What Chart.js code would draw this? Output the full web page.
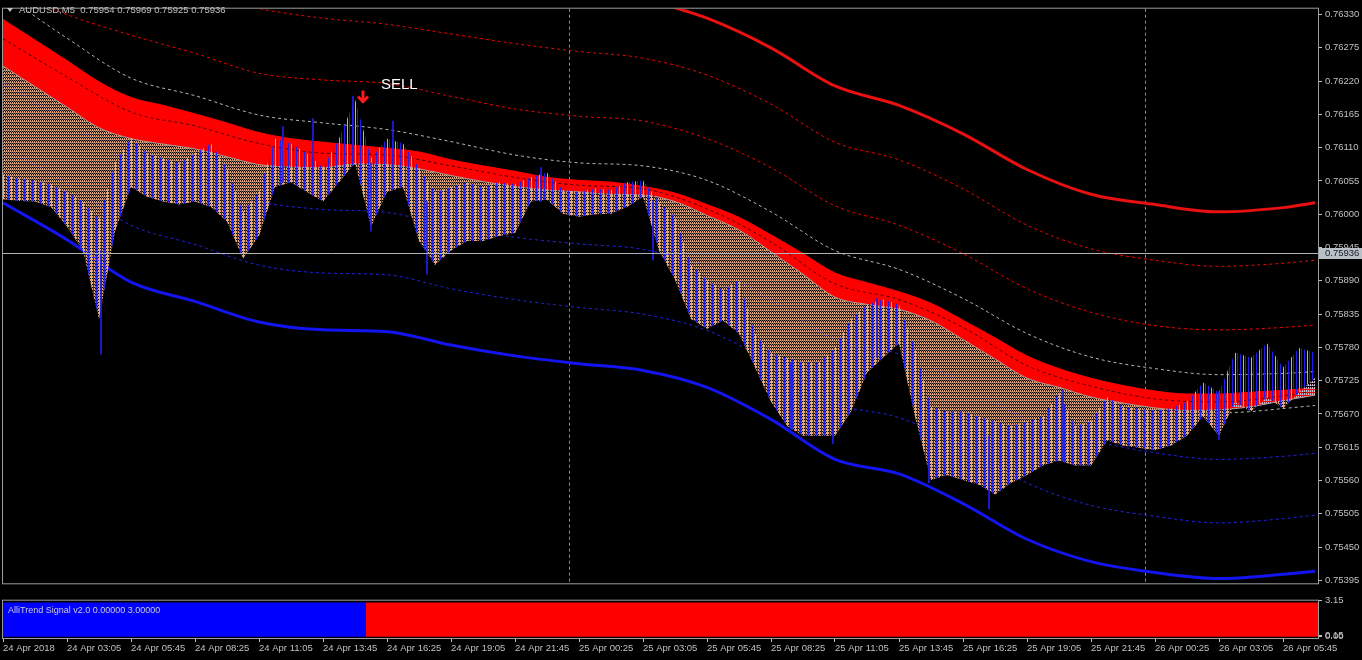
<!DOCTYPE html>
<html>
<head>
<meta charset="utf-8">
<title>AUDUSD,M5</title>
<script src="https://cdn.jsdelivr.net/npm/chart.js@4.4.0/dist/chart.umd.min.js"></script>
<style>
  html, body { margin: 0; padding: 0; background: #000; overflow: hidden; }
  #wrap { position: relative; width: 1362px; height: 660px; background: #000; }
  #main { position: absolute; left: 0; top: 0; }
  #sig { position: absolute; left: 0; top: 592px; }
</style>
</head>
<body>
<div id="wrap">
  <canvas id="main" width="1362" height="592"></canvas>
  <canvas id="sig" width="1362" height="68"></canvas>
</div>
<script>
// ---- chart data (bar index on x, price on y) ----
const symbol = 'AUDUSD,M5';
const ohlc = [0.75954, 0.75969, 0.75925, 0.75936];
const lastPrice = 0.75936;

const priceTicks = [0.76330, 0.76275, 0.76220, 0.76165, 0.76110, 0.76055, 0.76000, 0.75945, 0.75890,
  0.75835, 0.75780, 0.75725, 0.75670, 0.75615, 0.75560, 0.75505, 0.75450, 0.75395];

const timeLabels = ['24 Apr 2018', '24 Apr 03:05', '24 Apr 05:45', '24 Apr 08:25', '24 Apr 11:05',
  '24 Apr 13:45', '24 Apr 16:25', '24 Apr 19:05', '24 Apr 21:45', '25 Apr 00:25', '25 Apr 03:05',
  '25 Apr 05:45', '25 Apr 08:25', '25 Apr 11:05', '25 Apr 13:45', '25 Apr 16:25', '25 Apr 19:05',
  '25 Apr 21:45', '26 Apr 00:25', '26 Apr 03:05', '26 Apr 05:45'];
const barsPerLabel = 32;
const daySeparators = [283, 571];

// envelope lines, one reading every 32 bars
const envBars = [0, 32, 64, 96, 128, 160, 192, 224, 256, 288, 320, 352, 384, 416, 448, 480, 512, 544, 576, 608, 640, 656];
const redOuter = [0.76633, 0.76585, 0.76545, 0.76520, 0.76496, 0.76472, 0.76456, 0.76432, 0.76407, 0.76383, 0.76356,
  0.76324, 0.76275, 0.76212, 0.76180, 0.76133, 0.76074, 0.76033, 0.76016, 0.76004, 0.76011, 0.76019];
const redDot2 = [0.76440, 0.76416, 0.76391, 0.76367, 0.76340, 0.76324, 0.76314, 0.76298, 0.76282, 0.76269, 0.76258,
  0.76230, 0.76182, 0.76119, 0.76090, 0.76042, 0.75982, 0.75943, 0.75924, 0.75914, 0.75919, 0.75924];
const redDot1 = [0.76375, 0.76330, 0.76296, 0.76266, 0.76233, 0.76222, 0.76216, 0.76195, 0.76174, 0.76162, 0.76154,
  0.76125, 0.76077, 0.76014, 0.75982, 0.75935, 0.75877, 0.75838, 0.75816, 0.75809, 0.75813, 0.75817];
const greyUpper = [0.76364, 0.76291, 0.76225, 0.76196, 0.76164, 0.76151, 0.76140, 0.76120, 0.76098, 0.76085, 0.76080,
  0.76056, 0.76004, 0.75940, 0.75909, 0.75861, 0.75803, 0.75764, 0.75745, 0.75735, 0.75737, 0.75740];
const bandMid = [0.76290, 0.76227, 0.76169, 0.76146, 0.76117, 0.76101, 0.76098, 0.76080, 0.76061, 0.76048, 0.76042,
  0.76009, 0.75954, 0.75885, 0.75859, 0.75813, 0.75750, 0.75716, 0.75695, 0.75690, 0.75700, 0.75708];
const blueDot1 = [0.76217, 0.76154, 0.76085, 0.76053, 0.76021, 0.76008, 0.76003, 0.75979, 0.75962, 0.75951, 0.75942,
  0.75913, 0.75859, 0.75793, 0.75769, 0.75721, 0.75660, 0.75627, 0.75606, 0.75595, 0.75600, 0.75605];
const blueDot2 = [0.76112, 0.76051, 0.75982, 0.75950, 0.75916, 0.75903, 0.75900, 0.75877, 0.75859, 0.75846, 0.75835,
  0.75808, 0.75755, 0.75688, 0.75664, 0.75616, 0.75556, 0.75519, 0.75501, 0.75490, 0.75497, 0.75503];
const blueOuter = [0.76019, 0.75958, 0.75888, 0.75856, 0.75822, 0.75809, 0.75806, 0.75784, 0.75766, 0.75753, 0.75742,
  0.75714, 0.75661, 0.75595, 0.75571, 0.75522, 0.75463, 0.75426, 0.75408, 0.75398, 0.75405, 0.75410];

// grey dashed line under the band, only visible at the right end
const greyLowerBars = [592, 608, 624, 640, 656];
const greyLower = [0.75667, 0.75671, 0.75674, 0.75679, 0.75684];

// red band, one reading every 16 bars
const bandTop = [0.76322, 0.76288, 0.76254, 0.76219, 0.76193, 0.76180, 0.76166, 0.76151, 0.76135, 0.76125, 0.76119,
  0.76114, 0.76109, 0.76103, 0.76090, 0.76080, 0.76071, 0.76061, 0.76056, 0.76053, 0.76046, 0.76035, 0.76016, 0.75995,
  0.75966, 0.75935, 0.75903, 0.75887, 0.75872, 0.75853, 0.75825, 0.75796, 0.75766, 0.75745, 0.75729, 0.75717, 0.75708,
  0.75703, 0.75703, 0.75706, 0.75709, 0.75713];
const bandBottom = [0.76245, 0.76211, 0.76177, 0.76143, 0.76125, 0.76116, 0.76108, 0.76095, 0.76082, 0.76078, 0.76077,
  0.76083, 0.76082, 0.76075, 0.76064, 0.76054, 0.76046, 0.76040, 0.76037, 0.76033, 0.76032, 0.76021, 0.75998, 0.75974,
  0.75938, 0.75901, 0.75863, 0.75851, 0.75843, 0.75824, 0.75793, 0.75761, 0.75729, 0.75714, 0.75698, 0.75688, 0.75680,
  0.75676, 0.75677, 0.75682, 0.75692, 0.75701];

// price range, one reading every 8 bars
const priceHigh = [0.76066, 0.76059, 0.76056, 0.76050, 0.76037, 0.76021, 0.75992, 0.76085, 0.76127, 0.76101,
  0.76093, 0.76085, 0.76101, 0.76117, 0.76077, 0.76004, 0.76037, 0.76125, 0.76117, 0.76101,
  0.76077, 0.76125, 0.76190, 0.76093, 0.76125, 0.76117, 0.76077, 0.76037, 0.76045, 0.76053,
  0.76045, 0.76053, 0.76050, 0.76061, 0.76069, 0.76040, 0.76037, 0.76043, 0.76040, 0.76053,
  0.76056, 0.76021, 0.75996, 0.75916, 0.75892, 0.75875, 0.75892, 0.75803, 0.75771, 0.75763,
  0.75755, 0.75755, 0.75779, 0.75827, 0.75851, 0.75859, 0.75851, 0.75779, 0.75682, 0.75674,
  0.75674, 0.75666, 0.75658, 0.75650, 0.75658, 0.75666, 0.75706, 0.75650, 0.75658, 0.75698,
  0.75682, 0.75679, 0.75676, 0.75679, 0.75690, 0.75722, 0.75706, 0.75771, 0.75763, 0.75787,
  0.75747, 0.75779, 0.75771];
const priceLow = [0.76025, 0.76022, 0.76021, 0.76012, 0.75980, 0.75940, 0.75827, 0.75972, 0.76045, 0.76029,
  0.76021, 0.76016, 0.76021, 0.76012, 0.75988, 0.75927, 0.75964, 0.76045, 0.76053, 0.76037,
  0.76021, 0.76053, 0.76085, 0.75980, 0.76037, 0.76045, 0.75956, 0.75916, 0.75940, 0.75956,
  0.75956, 0.75964, 0.75969, 0.76021, 0.76024, 0.76001, 0.75996, 0.76000, 0.76001, 0.76012,
  0.76029, 0.75940, 0.75892, 0.75827, 0.75811, 0.75824, 0.75803, 0.75747, 0.75690, 0.75650,
  0.75634, 0.75634, 0.75634, 0.75674, 0.75738, 0.75763, 0.75787, 0.75666, 0.75561, 0.75569,
  0.75561, 0.75553, 0.75537, 0.75556, 0.75569, 0.75585, 0.75593, 0.75585, 0.75585, 0.75626,
  0.75618, 0.75614, 0.75610, 0.75618, 0.75634, 0.75666, 0.75634, 0.75690, 0.75674, 0.75698,
  0.75679, 0.75706, 0.75730];

// single bars that stick out of the range
const spikeBars = [49, 140, 155, 175, 184, 195, 212, 269, 325, 394, 415, 437, 463, 493, 530, 608];
const spikeLow = [0.75769, 0.76053, 0.76069, 0.76085, 0.75972, 0.76053, 0.75901, 0.76021, 0.75924, 0.75645,
  0.75621, 0.75763, 0.75556, 0.75513, 0.75593, 0.75627];
const spikeHigh = [0.75940, 0.76145, 0.76158, 0.76195, 0.76085, 0.76154, 0.76021, 0.76077, 0.76021, 0.75755,
  0.75755, 0.75861, 0.75666, 0.75634, 0.75709, 0.75706];

// sell arrow
const signalBars = [180];
const signalPrices = [0.76183];
const signalTexts = ['SELL'];

// AlliTrend Signal pane
const sigName = 'AlliTrend Signal v2.0 0.00000 3.00000';
const sigFrom = [0, 181.5];
const sigTo = [181.5, 657.5];
const sigSide = ['buy', 'sell'];
const sigValue = [3, 3];
const sigTicks = [3.15, 0.15, 0.00];

// ---- styling ----
const AXIS = '#c0c0c0';
const FRAME = '#9c9c9c';
const FONT = '"Liberation Sans", Arial, sans-serif';
Chart.defaults.font.family = FONT;
Chart.defaults.font.size = 9.5;
Chart.defaults.color = AXIS;
Chart.defaults.animation = false;

const bars = (step, n) => Array.from({ length: n }, (_, k) => k * step);
const bandBars = bars(16, bandTop.length);
const priceBars = bars(8, priceHigh.length);
const xy = (xs, ys) => ys.map((v, k) => ({ x: xs[k], y: v }));

const mainCanvas = document.getElementById('main');
const mctx = mainCanvas.getContext('2d');

function pattern(w, h, cells) {
  const c = document.createElement('canvas');
  c.width = w; c.height = h;
  const g = c.getContext('2d');
  cells.forEach(([px, py, col]) => { g.fillStyle = col; g.fillRect(px, py, 1, 1); });
  return mctx.createPattern(c, 'repeat');
}
// dotted histogram under / over the band
const hatchDown = pattern(2, 3, [[0, 0, '#e6aa82'], [0, 1, '#e6aa82'], [1, 1, '#6e6a68'], [1, 2, '#6e6a68']]);
const hatchUp = pattern(2, 3, [[0, 0, '#c8b8c8'], [0, 1, '#c8b8c8'], [1, 1, '#707080']]);
// high-low bars, mostly blue with some grey, hatch showing between them
const barStripes = pattern(8, 1, [[0, 0, '#1e1ef0'], [3, 0, '#b4b4b4'], [5, 0, '#1e1ef0']]);

function line(xs, ys, color, width, dash, extra) {
  return Object.assign({
    type: 'line',
    data: xy(xs, ys),
    borderColor: color,
    borderWidth: width,
    borderDash: dash,
    pointRadius: 0,
    fill: false,
    cubicInterpolationMode: 'monotone',
    order: 10
  }, extra || {});
}

const datasets = [
  line(envBars, redOuter, '#e81010', 3, []),                       // 0
  line(envBars, redDot2, '#f00000', 1, [3, 3]),                    // 1
  line(envBars, redDot1, '#f00000', 1, [3, 3]),                    // 2
  line(envBars, greyUpper, '#b4b4b4', 1, [3, 3]),                  // 3
  line(greyLowerBars, greyLower, '#b4b4b4', 1, [3, 3]),            // 4
  line(envBars, blueDot1, '#2020e0', 1, [3, 3]),                   // 5
  line(envBars, blueDot2, '#2020e0', 1, [3, 3]),                   // 6
  line(envBars, blueOuter, '#1414f0', 3, []),                      // 7
  line(envBars, bandMid, 'rgba(50,0,0,0.9)', 1, [3, 3], { order: 7.9 }),   // 8
  line(bandBars, bandTop, '#ff0000', 1, [], { fill: { target: 10 }, backgroundColor: '#ff0000', order: 8 }), // 9
  line(bandBars, bandBottom, '#b09a9a', 1, [], { order: 6.5 }),    // 10
  line(priceBars, priceLow, 'transparent', 0, [], {
    cubicInterpolationMode: 'default', tension: 0,
    fill: { target: 10, above: hatchUp, below: hatchDown }, order: 7
  }),                                                              // 11
  line(priceBars, priceHigh, 'transparent', 0, [], {
    cubicInterpolationMode: 'default', tension: 0,
    fill: { target: 11 }, backgroundColor: barStripes, order: 6
  }),                                                              // 12
  {
    type: 'bar',
    data: spikeBars.map((b, k) => ({ x: b, y: [spikeLow[k], spikeHigh[k]] })),
    backgroundColor: '#1e1ef0',
    barThickness: 1,
    order: 4
  }                                                                // 13
];

const mainOverlay = {
  id: 'mainOverlay',
  beforeDatasetsDraw(chart) {
    const { ctx, chartArea: a, scales: { x } } = chart;
    ctx.save();
    ctx.strokeStyle = '#8c8c8c';
    ctx.lineWidth = 1;
    ctx.setLineDash([3, 3]);
    daySeparators.forEach(b => {
      const px = Math.round(x.getPixelForValue(b)) + 0.5;
      ctx.beginPath(); ctx.moveTo(px, a.top); ctx.lineTo(px, a.bottom); ctx.stroke();
    });
    ctx.restore();
  },
  afterDatasetsDraw(chart) {
    const { ctx, chartArea: a, scales: { x, y } } = chart;
    ctx.save();
    const by = Math.round(y.getPixelForValue(lastPrice)) + 0.5;
    ctx.strokeStyle = '#b4b4b4';
    ctx.lineWidth = 1;
    ctx.beginPath(); ctx.moveTo(a.left, by); ctx.lineTo(a.right, by); ctx.stroke();

    signalBars.forEach((b, k) => {
      const px = x.getPixelForValue(b);
      const py = y.getPixelForValue(signalPrices[k]);
      ctx.strokeStyle = '#ff1a1a';
      ctx.lineWidth = 3;
      ctx.beginPath(); ctx.moveTo(px, py - 13); ctx.lineTo(px, py - 2); ctx.stroke();
      ctx.beginPath(); ctx.moveTo(px - 5, py - 7); ctx.lineTo(px, py - 2); ctx.lineTo(px + 5, py - 7); ctx.stroke();
      ctx.fillStyle = '#ffffff';
      ctx.font = '15px ' + FONT;
      ctx.textAlign = 'left';
      ctx.textBaseline = 'middle';
      ctx.fillText(signalTexts[k], px + 18, py - 19);
    });
    ctx.restore();
  },
  afterDraw(chart) {
    const { ctx, chartArea: a, scales: { y } } = chart;
    ctx.save();
    ctx.strokeStyle = FRAME;
    ctx.lineWidth = 1;
    ctx.strokeRect(a.left - 0.5, a.top - 0.5, a.width + 1, a.height + 1);

    // bid label on the price axis
    const by = Math.round(y.getPixelForValue(lastPrice));
    ctx.fillStyle = '#b8c0c8';
    ctx.fillRect(a.right + 1, by - 5, 1362 - a.right - 1, 11);
    ctx.fillStyle = '#1a1a1a';
    ctx.font = '9.5px ' + FONT;
    ctx.textAlign = 'left';
    ctx.textBaseline = 'middle';
    ctx.fillText(lastPrice.toFixed(5), a.right + 7, by + 0.5);

    // symbol header
    ctx.fillStyle = '#c0c0c0';
    ctx.beginPath(); ctx.moveTo(7, 8); ctx.lineTo(13, 8); ctx.lineTo(10, 12); ctx.closePath(); ctx.fill();
    ctx.fillText(symbol + '  ' + ohlc.map(v => v.toFixed(5)).join(' '), 19, 10);
    ctx.restore();
  }
};

new Chart(mainCanvas, {
  type: 'line',
  data: { datasets },
  options: {
    responsive: false,
    events: [],
    layout: { padding: { left: 3, top: 2, right: 0, bottom: 1 } },
    plugins: { legend: { display: false }, tooltip: { enabled: false } },
    scales: {
      x: { type: 'linear', min: 0, max: 657.5, offset: false, display: false, grid: { offset: false } },
      y: {
        type: 'linear',
        position: 'right',
        min: 0.753902,
        max: 0.763397,
        afterBuildTicks: s => { s.ticks = priceTicks.map(v => ({ value: v })); },
        afterFit: s => { s.width = 44; },
        grid: { drawOnChartArea: false, drawTicks: true, tickLength: 4, color: AXIS },
        border: { display: false },
        ticks: { autoSkip: false, padding: 3, callback: v => v.toFixed(5) }
      }
    }
  },
  plugins: [mainOverlay]
});

// ---- indicator pane ----
const sigOverlay = {
  id: 'sigOverlay',
  afterDraw(chart) {
    const { ctx, chartArea: a } = chart;
    ctx.save();
    ctx.strokeStyle = FRAME;
    ctx.lineWidth = 1;
    ctx.strokeRect(a.left - 0.5, a.top - 0.5, a.width + 1, a.height + 1);
    ctx.fillStyle = '#c8c8d8';
    ctx.font = '9px ' + FONT;
    ctx.textAlign = 'left';
    ctx.textBaseline = 'middle';
    ctx.fillText(sigName, a.left + 5, a.top + 10);
    ctx.restore();
  }
};

new Chart(document.getElementById('sig'), {
  type: 'line',
  data: {
    datasets: sigSide.map((side, k) => ({
      data: [{ x: sigFrom[k], y: sigValue[k] }, { x: sigTo[k], y: sigValue[k] }],
      fill: 'origin',
      backgroundColor: side === 'buy' ? '#0000ff' : '#ff0000',
      borderColor: 'transparent',
      borderWidth: 0,
      pointRadius: 0
    }))
  },
  options: {
    responsive: false,
    events: [],
    layout: { padding: { left: 3, top: 1, right: 0, bottom: 0 } },
    plugins: { legend: { display: false }, tooltip: { enabled: false } },
    scales: {
      x: {
        type: 'linear',
        min: 0,
        max: 657.5,
        afterBuildTicks: s => { s.ticks = timeLabels.map((_, k) => ({ value: k * barsPerLabel })); },
        afterFit: s => { s.height = 22; },
        grid: { drawOnChartArea: false, drawTicks: true, tickLength: 4, color: AXIS },
        border: { display: false },
        ticks: { align: 'start', autoSkip: false, maxRotation: 0, padding: 1, callback: (v, k) => timeLabels[k] }
      },
      y: {
        type: 'linear',
        position: 'right',
        min: -0.1,
        max: 3.15,
        afterBuildTicks: s => { s.ticks = sigTicks.map(v => ({ value: v })); },
        afterFit: s => { s.width = 44; },
        grid: { drawOnChartArea: false, drawTicks: true, tickLength: 4, color: AXIS },
        border: { display: false },
        ticks: { autoSkip: false, padding: 3, callback: v => v.toFixed(2) }
      }
    }
  },
  plugins: [sigOverlay]
});
</script>
</body>
</html>
